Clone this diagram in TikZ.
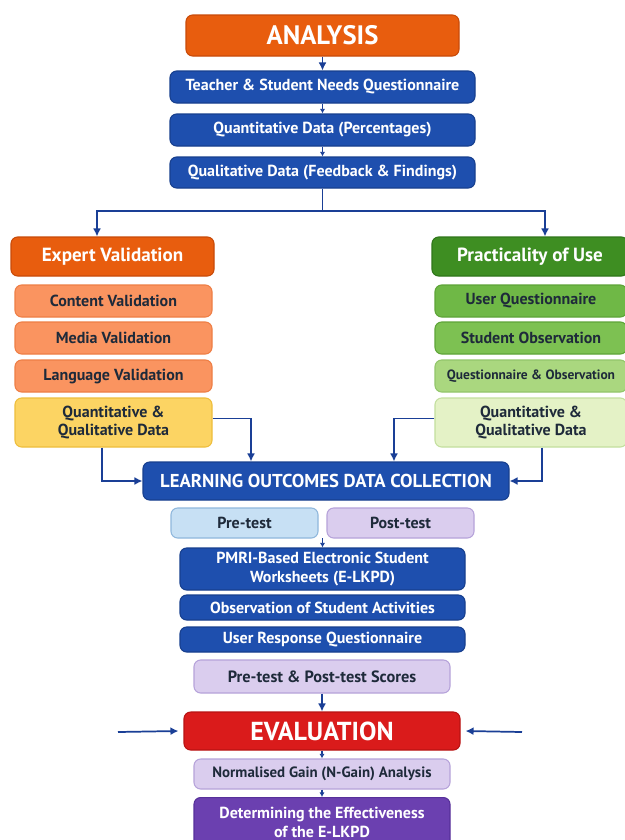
\documentclass[tikz,border=0pt]{standalone}
\usepackage{fontspec}
\setmainfont{PT Sans}
\usetikzlibrary{arrows.meta}

\definecolor{anaOrange}{HTML}{E85D0E}
\definecolor{anaBorder}{HTML}{C84A08}
\definecolor{deepBlue}{HTML}{1E4FAE}
\definecolor{deepBlueB}{HTML}{173F8E}
\definecolor{arrowBlue}{HTML}{1A3F96}
\definecolor{lightOrange}{HTML}{FA9460}
\definecolor{lightOrangeB}{HTML}{EE7E45}
\definecolor{sunYellow}{HTML}{FCD463}
\definecolor{sunYellowB}{HTML}{EEBE3C}
\definecolor{greenDark}{HTML}{3E8E22}
\definecolor{greenDarkB}{HTML}{2F761A}
\definecolor{greenMid}{HTML}{6FB846}
\definecolor{greenMidB}{HTML}{5EA438}
\definecolor{greenMid2}{HTML}{7DC152}
\definecolor{greenLight}{HTML}{AAD77F}
\definecolor{greenLightB}{HTML}{92C66A}
\definecolor{greenPale}{HTML}{E4F2C6}
\definecolor{greenPaleB}{HTML}{C3DF9E}
\definecolor{skyPale}{HTML}{C7E0F4}
\definecolor{skyPaleB}{HTML}{8FB7DC}
\definecolor{lilac}{HTML}{DACDEE}
\definecolor{lilacB}{HTML}{B6A2DA}
\definecolor{evalRed}{HTML}{DA1B1B}
\definecolor{evalRedB}{HTML}{B81212}
\definecolor{violet}{HTML}{6B40B0}
\definecolor{violetB}{HTML}{57309A}
\definecolor{inkDark}{HTML}{1E2A3A}

\tikzset{
  base/.style={rectangle, rounded corners=5pt, line width=0.8pt, align=center,
    inner sep=0pt, font=\bfseries},
  sz/.style 2 args={minimum width=#1*0.75pt, minimum height=#2*0.75pt},
  fsz/.style={font=\bfseries\linespread{1.15}\fontsize{#1}{#1}\selectfont},
  headbox/.style={base, fill=anaOrange, draw=anaBorder, text=white, fsz=20},
  bluebox/.style={base, fill=deepBlue, draw=deepBlueB, text=white, fsz=12},
  sidehead/.style={base, text=white, fsz=14.3},
  sub/.style={base, text=inkDark, fsz=12},
  flow/.style={draw=arrowBlue, line width=1.3pt, -{Latex[length=6pt,width=6pt]}},
  tiny/.style={draw=arrowBlue, line width=1pt, -{Latex[length=3.5pt,width=4pt]}}
}

\begin{document}
\begin{tikzpicture}[x=0.75pt, y=-0.75pt]
\useasboundingbox (0,0) rectangle (625,840);
\fill[white] (0,0) rectangle (625,840);

% analysis column
\node[headbox, sz={273}{41}] (ana) at (322.5,35.5) {ANALYSIS};
\node[bluebox, sz={305}{32}] (need) at (322.5,87) {Teacher \& Student Needs Questionnaire};
\node[bluebox, sz={305}{32}] (quant) at (322.5,130) {Quantitative Data (Percentages)};
\node[bluebox, sz={305}{31}] (qual) at (322.5,172.5) {Qualitative Data (Feedback \& Findings)};

\draw[flow] (ana) -- (need);
\draw[tiny] (need) -- (quant);
\draw[tiny] (quant) -- (qual);

% split to the two branches
\coordinate (split) at (322.5,211);
\draw[draw=arrowBlue, line width=1.3pt] (qual.south) -- (split);

% expert validation branch
\node[sidehead, fill=anaOrange, draw=anaBorder, sz={203}{39}] (exp) at (112.5,256.5) {Expert Validation};
\node[sub, fill=lightOrange, draw=lightOrangeB, sz={197}{32}] (cv) at (113.5,301) {Content Validation};
\node[sub, fill=lightOrange, draw=lightOrangeB, sz={197}{32}] (mv) at (113.5,338) {Media Validation};
\node[sub, fill=lightOrange, draw=lightOrangeB, sz={197}{32}] (lv) at (113.5,376) {Language Validation};
\node[sub, fill=sunYellow, draw=sunYellowB, sz={197}{49}] (eqd) at (113.5,422.5) {Quantitative \&\\Qualitative Data};

% practicality branch
\node[sidehead, fill=greenDark, draw=greenDarkB, sz={196}{39}] (prac) at (530,256.5) {Practicality of Use};
\node[sub, fill=greenMid, draw=greenMidB, sz={192}{32}] (uq) at (531,301) {User Questionnaire};
\node[sub, fill=greenMid2, draw=greenMidB, sz={192}{32}] (so) at (531,338) {Student Observation};
\node[sub, fill=greenLight, draw=greenLightB, sz={192}{32}, fsz=10.1] (qo) at (531,376) {Questionnaire \& Observation};
\node[sub, fill=greenPale, draw=greenPaleB, sz={192}{49}] (pqd) at (531,422.5) {Quantitative \&\\Qualitative Data};

\draw[flow] (split) -| ([xshift=-15.5*0.75pt]exp.north);
\draw[flow] (split) -| ([xshift=15*0.75pt]prac.north);

% learning outcomes data collection
\node[bluebox, sz={366}{38}, fsz=14] (loc) at (326,481) {LEARNING OUTCOMES DATA COLLECTION};

\draw[flow] ([xshift=-11.5*0.75pt]eqd.south) |- (loc.west);
\draw[flow] ([yshift=4*0.75pt]eqd.east) -| ([xshift=-75*0.75pt]loc.north);
\draw[flow] ([yshift=4*0.75pt]pqd.west) -| ([xshift=68*0.75pt]loc.north);
\draw[flow] ([xshift=11*0.75pt]pqd.south) |- (loc.east);

% tests and instruments
\node[sub, fill=skyPale, draw=skyPaleB, sz={147}{30}] (pre) at (244.5,523) {Pre-test};
\node[sub, fill=lilac, draw=lilacB, sz={147}{30}] (post) at (400.5,523) {Post-test};
\coordinate (tests) at (322.5,538);

\node[bluebox, sz={285}{42}] (pmri) at (322.5,569) {PMRI-Based Electronic Student\\Worksheets (E-LKPD)};
\node[bluebox, sz={285}{25}] (obs) at (322.5,607.5) {Observation of Student Activities};
\node[bluebox, sz={285}{25}] (urq) at (322.5,639.5) {User Response Questionnaire};
\node[sub, fill=lilac, draw=lilacB, sz={256}{33}, fsz=12.25] (scores) at (322,676.5) {Pre-test \& Post-test Scores};

\draw[tiny] (tests) -- (pmri);

% evaluation
\node[headbox, fill=evalRed, draw=evalRedB, sz={276}{38}, fsz=19.5] (eval) at (322,731) {EVALUATION};
\coordinate (inL) at (118,732);
\coordinate (inR) at (522,732);
\draw[flow] (scores) -- (eval);
\draw[flow] (inL) -- ([xshift=-5*0.75pt]eval.west);
\draw[flow] (inR) -- ([xshift=5*0.75pt]eval.east);

\node[sub, fill=lilac, draw=lilacB, sz={256}{30}, fsz=11.2] (ngain) at (322,774) {Normalised Gain (N-Gain) Analysis};
\node[bluebox, fill=violet, draw=violetB, sz={256}{50}, anchor=north] (eff) at (322,797) {Determining the Effectiveness\\of the E-LKPD};

\draw[tiny] (eval) -- (ngain);
\draw[tiny] (ngain) -- (eff);
\end{tikzpicture}
\end{document}
